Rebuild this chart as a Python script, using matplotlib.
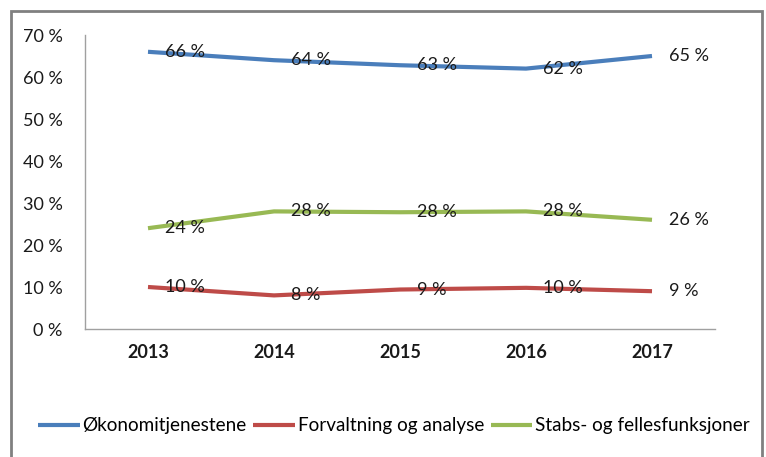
import matplotlib.pyplot as plt
from matplotlib.patches import Rectangle

plt.rcParams['font.family'] = ['Lato', 'DejaVu Sans']

years = ['2013', '2014', '2015', '2016', '2017']
okonomi = [66, 64, 62.8, 62, 65]
forvaltning = [10, 8, 9.4, 9.8, 9]
stabs = [24, 28, 27.8, 28, 26]
names = ['Økonomitjenestene', 'Forvaltning og analyse', 'Stabs- og fellesfunksjoner']
colors = ['#4a7ebb', '#be4b48', '#98b954']

fig = plt.figure(figsize=(7.66, 4.57), dpi=100)
ax = fig.add_axes([85 / 766, 1 - 329 / 457, 630 / 766, 294 / 457])

x = range(len(years))
lines = []
for vals, name, col in zip([okonomi, forvaltning, stabs], names, colors):
    ln, = ax.plot(x, vals, color=col, lw=3, solid_capstyle='butt', label=name)
    lines.append(ln)
    for xi, v in zip(x, vals):
        ax.annotate(f'{round(v)} %', (xi, v), xytext=(17, 0), textcoords='offset pixels',
                    ha='left', va='center', fontsize=13, color='#1a1a1a')

ax.set_xlim(-0.5, len(years) - 0.5)
ax.set_ylim(0, 70)
ax.set_yticks(range(0, 71, 10))
ax.set_yticklabels([f'{t} %' for t in range(0, 71, 10)], fontsize=13, color='#1a1a1a')
ax.set_xticks(list(x))
ax.set_xticklabels(years, fontsize=13, fontweight='bold', color='#1a1a1a')
ax.tick_params(length=0)
ax.tick_params(axis='y', pad=16)
ax.tick_params(axis='x', pad=11)
for s in ['top', 'right']:
    ax.spines[s].set_visible(False)
for s in ['left', 'bottom']:
    ax.spines[s].set_color('#a0a0a0')
    ax.spines[s].set_linewidth(1)

fig.legend(handles=lines, loc='center left', bbox_to_anchor=(38 / 766, 1 - 426 / 457),
           ncol=3, frameon=False, fontsize=13.6, handlelength=2.2, handletextpad=0.15,
           columnspacing=0.35, borderaxespad=0, borderpad=0)

fig.patches.append(Rectangle((11 / 766, -0.05), 751 / 766, 1 - 11 / 457 + 0.05,
                             transform=fig.transFigure, fill=False,
                             edgecolor='#808080', lw=2))

fig.savefig('out.png', dpi=100)
